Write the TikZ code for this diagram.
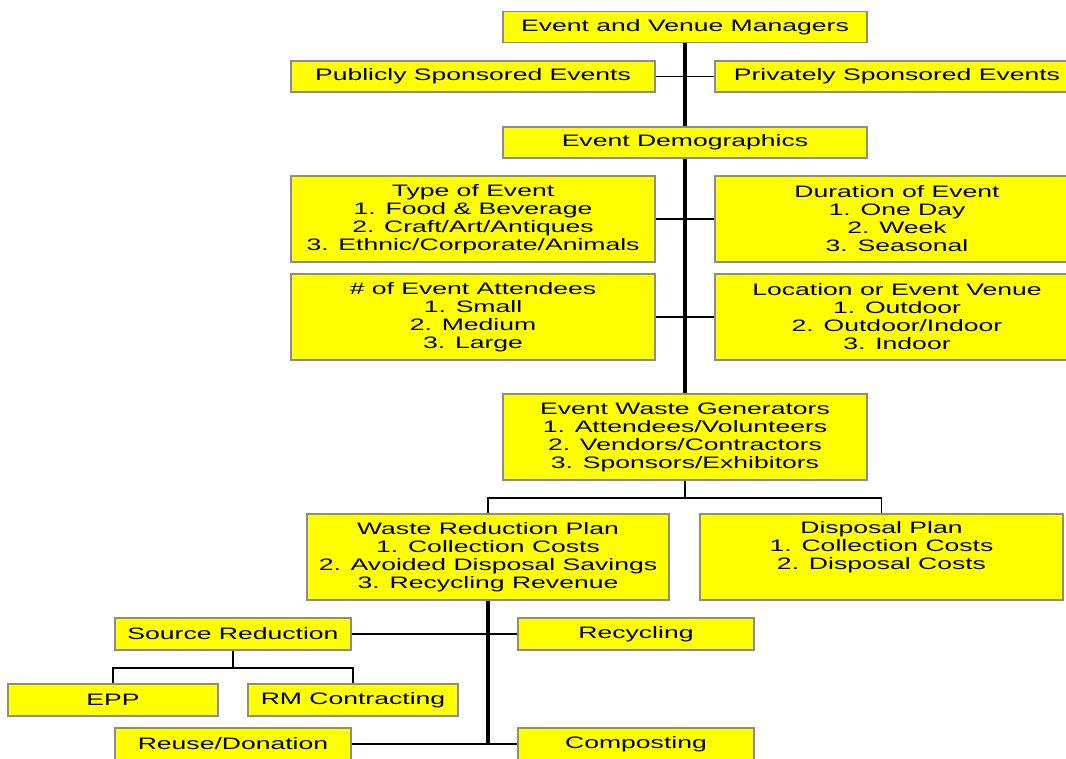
\documentclass[tikz,border=0pt]{standalone}
\usepackage{fontspec}
\usepackage{tikz}
\newfontfamily\boxfont[FakeStretch=1.6]{Liberation Sans}
\definecolor{boxyellow}{RGB}{255,255,0}
\definecolor{boxgray}{RGB}{140,140,140}

\begin{document}
\begin{tikzpicture}[x=0.025cm,y=-0.025cm,
	box/.style={draw=boxgray,fill=boxyellow,line width=1.2pt,inner sep=0pt,align=center,
		font={\boxfont\fontsize{11.8}{12.8}\selectfont}},
	wide/.style={box,minimum width=9.1cm},
	tall/.style={minimum height=2.15cm},
	short/.style={minimum height=0.78cm},
	small/.style={box,minimum width=5.9cm,minimum height=0.8cm},
	tiny/.style={box,minimum width=5.25cm,minimum height=0.8cm},
	spine/.style={line width=2.2pt},
	link/.style={line width=1.2pt}]
	\useasboundingbox (0,0) rectangle (1066,758);
	\node[wide,short] (managers) at (685,27) {Event and Venue Managers};
	\node[wide,short] (public) at (473,76.5) {Publicly Sponsored Events};
	\node[wide,short] (private) at (897,76.5) {Privately Sponsored Events};
	\node[wide,short] (demo) at (685,142.5) {Event Demographics};
	\node[wide,tall] (type) at (473,219) {Type of Event\\1. Food \& Beverage\\2. Craft/Art/Antiques\\3. Ethnic/Corporate/Animals};
	\node[wide,tall] (duration) at (897,219) {Duration of Event\\1. One Day\\2. Week\\3. Seasonal};
	\node[wide,tall] (attend) at (473,317) {\# of Event Attendees\\1. Small\\2. Medium\\3. Large};
	\node[wide,tall] (venue) at (897,317) {Location or Event Venue\\1. Outdoor\\2. Outdoor/Indoor\\3. Indoor};
	\node[wide,tall] (gen) at (685,437) {Event Waste Generators\\1. Attendees/Volunteers\\2. Vendors/Contractors\\3. Sponsors/Exhibitors};
	\node[wide,tall,minimum width=9.05cm] (wrp) at (488,557) {Waste Reduction Plan\\1. Collection Costs\\2. Avoided Disposal Savings\\3. Recycling Revenue};
	\node[wide,tall,minimum width=9.075cm] (dp) at (881.5,557) {Disposal Plan\\1. Collection Costs\\2. Disposal Costs\\\strut};
	\node[small] (source) at (233,634) {Source Reduction};
	\node[small] (recycle) at (636,634) {Recycling};
	\node[tiny] (epp) at (113,700) {EPP};
	\node[tiny] (rm) at (353,700) {RM Contracting};
	\node[small] (reuse) at (233,744) {Reuse/Donation};
	\node[small] (compost) at (636,744) {Composting};
	\coordinate (wrpend) at (wrp.south |- reuse.east);

	\draw[spine] (managers) -- (demo);
	\draw[spine] (demo) -- (gen);
	\draw[link] (public) -- (private);
	\draw[link] (type) -- (duration);
	\draw[link] (attend) -- (venue);
	\draw[link] (gen.south) -- ++(0,17) -| (wrp.north);
	\draw[link] (gen.south) -- ++(0,17) -| (dp.north);
	\draw[spine] (wrp.south) -- (wrpend);
	\draw[link] (source) -- (recycle);
	\draw[link] (reuse) -- (compost);
	\draw[link] (source.south) -- ++(0,17) -| (epp.north);
	\draw[link] (source.south) -- ++(0,17) -| (rm.north);
\end{tikzpicture}
\end{document}
